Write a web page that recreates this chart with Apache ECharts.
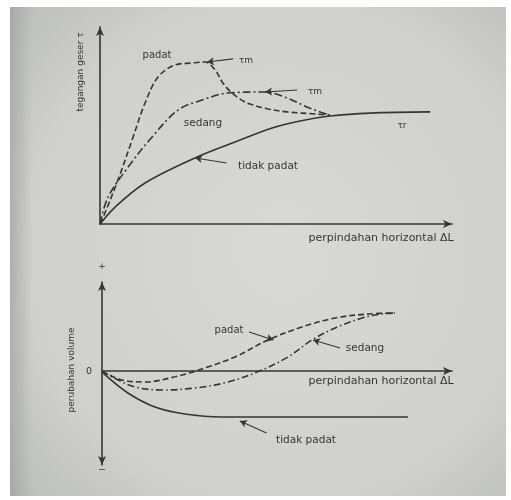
<!DOCTYPE html>
<html>
<head>
<meta charset="utf-8">
<script src="https://cdn.jsdelivr.net/npm/echarts@6/dist/echarts.min.js"></script>
<style>html,body{margin:0;padding:0;background:#fff}#c{width:511px;height:500px}</style>
</head>
<body>
<div id="c"></div>
<script>
// ---- Data (arbitrary units) ----
// Top panel: shear stress (0-100) vs horizontal displacement (0-100)
const shearPadat = [[0,0],[1.4,5.6],[5.1,22.3],[9.1,42.6],[12.8,61.4],[16.5,74.6],[21.3,80.7],[26.1,81.7],[29.8,82.2],[32.7,78.2],[34.9,71.6],[37.5,66.5],[41.2,61.9],[43.5,60.4],[47.7,58.4],[53.1,56.9],[61.6,55.8],[65.3,55.3]];
const shearSedang = [[0,0],[2.3,13.7],[8.0,28.9],[14.8,44.2],[22.2,57.9],[29.0,62.9],[36.4,66.5],[46.9,67.0],[53.1,64.0],[58.8,59.4],[62.5,56.9],[65.3,55.3]];
const shearTidakPadat = [[0,0],[4.3,8.6],[12.8,20.8],[27.0,33.5],[38.4,41.6],[48.9,48.7],[56.8,52.3],[65.3,54.8],[76.7,56.3],[93.8,56.9]];
// Bottom panel: volume change (-47..44.5) vs horizontal displacement (0-100)
const volPadat = [[0,0],[0.9,-1],[5.7,-4.5],[12.3,-5.5],[21.7,-2.5],[29.4,1.5],[38,7],[47.4,15.5],[57.1,22],[66.6,26.5],[76,28.5],[83.7,29]];
const volSedang = [[0,0],[2.9,-3],[9.4,-8],[17.1,-9.5],[26.6,-8.5],[36,-5.5],[45.7,0.5],[53.1,7],[60,15.5],[66.6,21.5],[74.3,26.5],[80,28.5],[83.7,29]];
const volTidakPadat = [[0,0],[0.9,-2],[7.4,-11],[15.1,-18],[23.7,-21.5],[34.3,-23],[87.4,-23]];
// Leader arrows (from label to curve), data coords
const shearArrows = [[[37.8,83.8],[30.4,82.2]],[[56,68],[46.9,67]],[[36,31],[27,33.5]]];
const volArrows = [[[42,19.5],[49,15.5]],[[68,11.5],[60.3,15.5]],[[47,-31],[39.4,-25]]];
// Text labels
const seriesNames = ['padat','sedang','tidak padat'];
const yNameTop = 'tegangan geser τ';
const yNameBottom = 'perubahan volume';
const xName = 'perpindahan horizontal ΔL';

const INK = '#353535';
const FONT = '"DejaVu Sans", Verdana, sans-serif';
const chart = echarts.init(document.getElementById('c'), null, {renderer:'canvas'});

function axisX(gridIndex){
  return {type:'value', gridIndex, min:0, max:100, axisLabel:{show:false}, axisTick:{show:false}, splitLine:{show:false},
    axisLine:{onZero:true, symbol:['none','arrow'], symbolSize:[6,9], lineStyle:{color:INK, width:1.6}}};
}
function arrowLines(list){
  return {silent:true, symbol:['none','arrow'], symbolSize:[6,7], label:{show:false},
    lineStyle:{color:INK, width:1.1, type:'solid'},
    data: list.map(a=>[{coord:a[0]},{coord:a[1]}])};
}
function curve(name, data, x, y, type, arrows){
  const s = {name, type:'line', xAxisIndex:x, yAxisIndex:y, data, smooth:0.35, showSymbol:false,
    lineStyle:{color:INK, width:1.6, type}, z:3};
  if (arrows) s.markLine = arrows;
  return s;
}
function txt(t, x, y, size, opts){
  return Object.assign({type:'text', x, y, silent:true, style:{text:t, fill:INK, font:`${size}px ${FONT}`, textAlign:'center', textVerticalAlign:'middle'}}, opts||{});
}

const option = {
  backgroundColor:'#ffffff',
  animation:false,
  grid:[
    {left:100, top:27, width:352, height:197},
    {left:102, top:282, width:350, height:183}
  ],
  xAxis:[axisX(0), axisX(1)],
  yAxis:[
    {type:'value', gridIndex:0, min:0, max:100, axisLabel:{show:false}, axisTick:{show:false}, splitLine:{show:false},
     axisLine:{symbol:['none','arrow'], symbolSize:[6,9], lineStyle:{color:INK, width:1.6}}},
    {type:'value', gridIndex:1, min:-47, max:44.5, axisLabel:{show:false}, axisTick:{show:false}, splitLine:{show:false},
     axisLine:{onZero:false, symbol:['arrow','arrow'], symbolSize:[6,9], lineStyle:{color:INK, width:1.6}}}
  ],
  series:[
    curve(seriesNames[0], shearPadat, 0, 0, [6,3], arrowLines(shearArrows)),
    curve(seriesNames[1], shearSedang, 0, 0, [8,3,2,3]),
    curve(seriesNames[2], shearTidakPadat, 0, 0, 'solid'),
    curve(seriesNames[0], volPadat, 1, 1, [6,3], arrowLines(volArrows)),
    curve(seriesNames[1], volSedang, 1, 1, [7,3,1.5,3]),
    curve(seriesNames[2], volTidakPadat, 1, 1, 'solid')
  ],
  graphic:[
    {type:'rect', shape:{x:10,y:7,width:496,height:489}, silent:true, z:-10,
     style:{fill:{type:'radial', x:0.55, y:0.5, r:0.75, colorStops:[{offset:0,color:'#d9dad6'},{offset:0.7,color:'#cfd0cc'},{offset:1,color:'#bbbdb9'}]}}},
    {type:'rect', shape:{x:10,y:7,width:22,height:489}, silent:true, z:-9,
     style:{fill:{type:'linear', x:0,y:0,x2:1,y2:0, colorStops:[{offset:0,color:'rgba(150,152,150,0.55)'},{offset:1,color:'rgba(150,152,150,0)'}]}}},
    txt(yNameTop, 81, 72, 9, {rotation:Math.PI/2}),
    txt(yNameBottom, 72, 370, 9, {rotation:Math.PI/2}),
    txt(xName, 381, 238, 11),
    txt(xName, 381, 381, 11),
    txt(seriesNames[0], 157, 55, 10),
    txt('τm', 246, 61, 9),
    txt(seriesNames[1], 203, 123, 10.5),
    txt('τm', 315, 92, 9),
    txt('τr', 402, 126, 9),
    txt(seriesNames[2], 268, 166, 10.5),
    txt(seriesNames[0], 229, 330, 10),
    txt(seriesNames[1], 365, 348, 10.5),
    txt(seriesNames[2], 306, 440, 10.5),
    txt('+', 102, 267, 9),
    txt('0', 89, 372, 9.5),
    txt('−', 102, 470, 9)
  ]
};
chart.setOption(option);
</script>
</body>
</html>
